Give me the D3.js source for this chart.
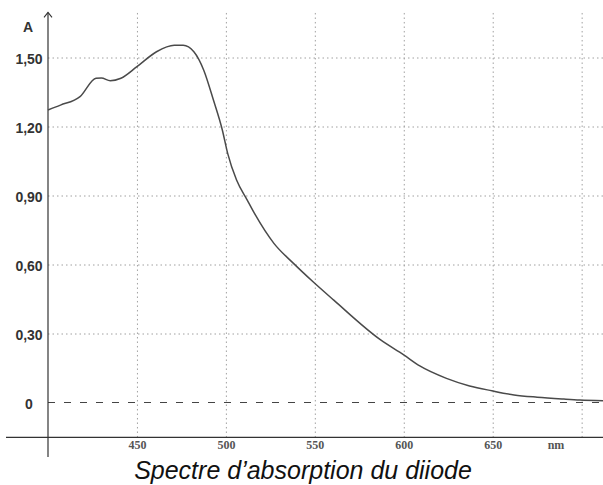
<!DOCTYPE html>
<html>
<head>
<meta charset="utf-8">
<script src="https://cdn.jsdelivr.net/npm/d3@7"></script>
<style>
  body { margin: 0; background: #fff; }
  svg { display: block; }
</style>
</head>
<body>
<div id="graph_draw"></div>
<script>
// spectrum
var wavelength = [400, 407, 418, 427, 430, 435, 441, 450, 461, 471, 476, 482, 487.5, 493, 498, 501, 506, 512, 516, 527, 538, 549, 560.5, 587, 600, 609, 624, 637, 649.5, 662, 675, 690, 699, 712];
var absorbance = [1.272, 1.293, 1.330, 1.410, 1.411, 1.399, 1.410, 1.460, 1.525, 1.553, 1.553, 1.525, 1.446, 1.315, 1.185, 1.083, 0.967, 0.880, 0.823, 0.692, 0.605, 0.525, 0.446, 0.272, 0.207, 0.159, 0.105, 0.072, 0.051, 0.033, 0.023, 0.015, 0.011, 0.008];

var xTicks = [450, 500, 550, 600, 650];
var xGrid = [450, 500, 550, 600, 650, 700];
var yTicks = [0, 0.30, 0.60, 0.90, 1.20, 1.50];
var yGrid = [0.30, 0.60, 0.90, 1.20, 1.50];

var data = wavelength.map(function(d, i) { return {nm: d, A: absorbance[i]}; });

var width = 603, height = 485;

// scales
var x = d3.scaleLinear().domain([400, 712]).range([48, 603]);
var y = d3.scaleLinear().domain([0, 1.5]).range([402.5, 57.5]);

var fr = d3.formatLocale({decimal: ",", thousands: " ", grouping: [3], currency: ["", ""]});
var fmt = fr.format(".2f");

var svg = d3.select("#graph_draw").append("svg")
    .attr("width", width)
    .attr("height", height);

var yTop = y(1.696), xAxisY = y(-0.152);

// horizontal grid
svg.append("g")
    .attr("transform", "translate(" + x(400) + ",0)")
    .call(d3.axisRight(y).tickValues(yGrid).tickSize(width - x(400)).tickFormat(""))
    .call(function(g) {
        g.select(".domain").remove();
        g.selectAll("line").attr("stroke", "#a0a0a0").attr("stroke-dasharray", "1.5,3");
    });

// vertical grid
svg.append("g")
    .attr("transform", "translate(0," + xAxisY + ")")
    .call(d3.axisTop(x).tickValues(xGrid).tickSize(xAxisY - yTop).tickFormat(""))
    .call(function(g) {
        g.select(".domain").remove();
        g.selectAll("line").attr("stroke", "#a0a0a0").attr("stroke-dasharray", "1.5,3");
    });

// zero line
svg.append("line")
    .attr("x1", x(400)).attr("x2", width)
    .attr("y1", y(0)).attr("y2", y(0))
    .attr("stroke", "#444")
    .attr("stroke-dasharray", "7,9");

// x axis line + labels
svg.append("line")
    .attr("x1", 6).attr("x2", width)
    .attr("y1", xAxisY).attr("y2", xAxisY)
    .attr("stroke", "#333").attr("stroke-width", 1.2);

svg.append("g")
    .attr("transform", "translate(0," + xAxisY + ")")
    .call(d3.axisBottom(x).tickValues(xTicks).tickSize(0).tickPadding(3))
    .call(function(g) {
        g.select(".domain").remove();
        g.selectAll("text")
            .attr("font-family", "Liberation Serif, serif")
            .attr("font-weight", "bold")
            .attr("font-size", 12)
            .attr("fill", "#555");
    });

svg.append("text")
    .attr("x", 556).attr("y", 449)
    .attr("text-anchor", "middle")
    .attr("font-family", "Liberation Serif, serif")
    .attr("font-weight", "bold")
    .attr("font-size", 12)
    .attr("fill", "#555")
    .text("nm");

// y axis line with arrow
svg.append("line")
    .attr("x1", x(400)).attr("x2", x(400))
    .attr("y1", yTop).attr("y2", 457)
    .attr("stroke", "#333").attr("stroke-width", 1.2);
svg.append("path")
    .attr("d", "M" + (x(400) - 4) + "," + (yTop + 5) + "L" + x(400) + "," + yTop + "L" + (x(400) + 4) + "," + (yTop + 5))
    .attr("fill", "none").attr("stroke", "#333").attr("stroke-width", 1.1);

svg.append("g")
    .attr("transform", "translate(" + x(400) + ",0)")
    .call(d3.axisLeft(y).tickValues(yTicks).tickSize(0)
        .tickFormat(function(d) { return d === 0 ? "0" : fmt(d); }))
    .call(function(g) {
        g.select(".domain").remove();
        g.selectAll("text")
            .attr("x", -19)
            .attr("dy", "0.45em")
            .attr("text-anchor", "middle")
            .attr("font-family", "Liberation Sans, Arial, sans-serif")
            .attr("font-weight", "bold")
            .attr("font-size", 14)
            .attr("fill", "#333");
    });

svg.append("text")
    .attr("x", 28).attr("y", 32)
    .attr("text-anchor", "middle")
    .attr("font-family", "Liberation Sans, Arial, sans-serif")
    .attr("font-weight", "bold")
    .attr("font-size", 14)
    .attr("fill", "#333")
    .text("A");

// the spectrum
var valueline = d3.line()
    .x(function(d) { return x(d.nm); })
    .y(function(d) { return y(d.A); })
    .curve(d3.curveMonotoneX);

svg.append("path")
    .data([data])
    .attr("fill", "none")
    .attr("stroke", "#4a4a4a")
    .attr("stroke-width", 1.5)
    .attr("d", valueline);

// title
svg.append("text")
    .attr("x", 303).attr("y", 479)
    .attr("text-anchor", "middle")
    .attr("font-family", "Liberation Sans, Arial, sans-serif")
    .attr("font-style", "italic")
    .attr("font-size", 25)
    .attr("fill", "#111")
    .text("Spectre d\u2019absorption du diiode");
</script>
</body>
</html>
